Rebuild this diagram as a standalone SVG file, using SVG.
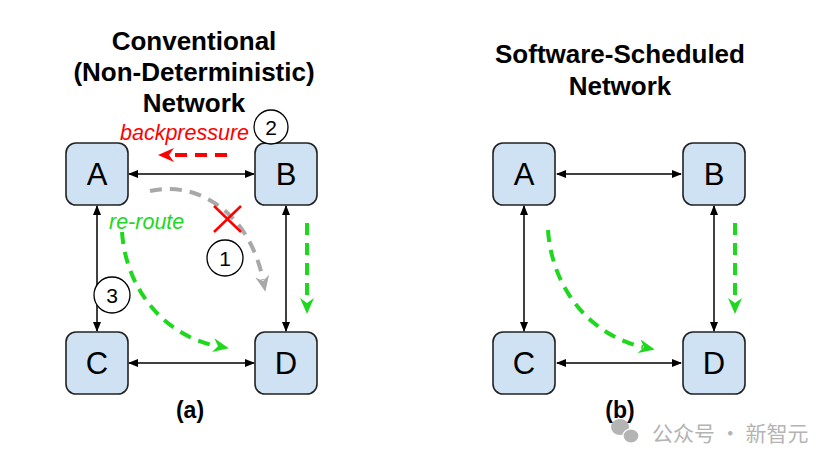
<svg xmlns="http://www.w3.org/2000/svg" width="836" height="462" viewBox="0 0 836 462">
<style>
.title{font-family:"Liberation Sans",Arial,sans-serif;font-weight:bold;font-size:26px;fill:#000;text-anchor:middle}
.box{fill:#cfe2f3;stroke:#222;stroke-width:1.6}
.lbl{font-family:"Liberation Sans",Arial,sans-serif;font-size:31px;fill:#000;text-anchor:middle}
.link{stroke:#000;stroke-width:1.5;fill:none;marker-start:url(#blk);marker-end:url(#blk)}
.num{fill:#fff;stroke:#000;stroke-width:1.3}
.numt{font-family:"Liberation Sans",Arial,sans-serif;font-size:21px;fill:#000;text-anchor:middle}
.it{font-family:"Liberation Sans",Arial,sans-serif;font-style:italic;font-size:21.5px}
.g{stroke:#1ed81e;stroke-width:4;fill:none;stroke-dasharray:12 8;marker-end:url(#ga)}
.cap{font-family:"Liberation Sans",Arial,sans-serif;font-weight:bold;font-size:23px;fill:#000;text-anchor:middle}
</style>
<defs>
<marker id="blk" markerUnits="userSpaceOnUse" markerWidth="10" markerHeight="8" refX="9" refY="4" orient="auto-start-reverse" viewBox="0 0 10 8"><path d="M0,0 L10,4 L0,8 Z" fill="#000"/></marker>
<marker id="ga" markerUnits="userSpaceOnUse" markerWidth="16" markerHeight="14" refX="4" refY="7" orient="auto" viewBox="0 0 16 14"><path d="M0,0 L16,7 L0,14 L5,7 Z" fill="#1ed81e"/></marker>
<marker id="ra" markerUnits="userSpaceOnUse" markerWidth="16" markerHeight="14" refX="4" refY="7" orient="auto" viewBox="0 0 16 14"><path d="M0,0 L16,7 L0,14 L5,7 Z" fill="#ff0000"/></marker>
<marker id="ya" markerUnits="userSpaceOnUse" markerWidth="16" markerHeight="14" refX="4" refY="7" orient="auto" viewBox="0 0 16 14"><path d="M0,0 L16,7 L0,14 L5,7 Z" fill="#a8a8a8"/></marker>
</defs>

<g id="title-a">
<text class="title" x="194" y="50">Conventional</text>
<text class="title" x="194" y="81">(Non-Deterministic)</text>
<text class="title" x="194" y="112">Network</text>
</g>
<g id="title-b">
<text class="title" x="620" y="63">Software-Scheduled</text>
<text class="title" x="620" y="95">Network</text>
</g>

<g id="connectors">
<path class="link" d="M129,174 H254"/>
<path class="link" d="M97,206 V331"/>
<path class="link" d="M286,206 V331"/>
<path class="link" d="M129,363 H254"/>
<path class="link" d="M557,174 H681"/>
<path class="link" d="M524,206 V331"/>
<path class="link" d="M714,206 V331"/>
<path class="link" d="M557,363 H681"/>
<path d="M227,155 H170" stroke="#ff0000" stroke-width="4" fill="none" stroke-dasharray="12 8" marker-end="url(#ra)"/>
<path d="M150,191 C200,180 250,215 263,280" stroke="#a8a8a8" stroke-width="4" fill="none" stroke-dasharray="12 8" marker-end="url(#ya)"/>
<path class="g" d="M122,232 C126,290 165,336 217,346"/>
<path class="g" d="M307,223 V302"/>
<path class="g" d="M548,230 C552,290 592,336 643,347"/>
<path class="g" d="M735,223 V302"/>
</g>

<g id="node-A-a"><rect class="box" x="66" y="143" width="62" height="62" rx="10"/><text class="lbl" x="97" y="185">A</text></g>
<g id="node-B-a"><rect class="box" x="255" y="143" width="62" height="62" rx="10"/><text class="lbl" x="286" y="185">B</text></g>
<g id="node-C-a"><rect class="box" x="66" y="332" width="62" height="62" rx="10"/><text class="lbl" x="97" y="374">C</text></g>
<g id="node-D-a"><rect class="box" x="255" y="332" width="62" height="62" rx="10"/><text class="lbl" x="286" y="374">D</text></g>

<g id="node-A-b"><rect class="box" x="493" y="143" width="62" height="62" rx="10"/><text class="lbl" x="524" y="185">A</text></g>
<g id="node-B-b"><rect class="box" x="683" y="143" width="62" height="62" rx="10"/><text class="lbl" x="714" y="185">B</text></g>
<g id="node-C-b"><rect class="box" x="493" y="332" width="62" height="62" rx="10"/><text class="lbl" x="524" y="374">C</text></g>
<g id="node-D-b"><rect class="box" x="683" y="332" width="62" height="62" rx="10"/><text class="lbl" x="714" y="374">D</text></g>

<g id="label-backpressure"><text class="it" x="120" y="140" fill="#ff0000">backpressure</text></g>
<g id="label-reroute"><text class="it" x="109" y="229" fill="#1ed81e">re-route</text></g>
<g id="cross"><path d="M214,206 L241,232 M241,206 L214,232" stroke="#ff0000" stroke-width="2.5" fill="none"/></g>

<g id="step-2"><circle class="num" cx="271" cy="127" r="17"/><text class="numt" x="271" y="135">2</text></g>
<g id="step-1"><circle class="num" cx="225" cy="258" r="18"/><text class="numt" x="225" y="266">1</text></g>
<g id="step-3"><circle class="num" cx="112" cy="295" r="18"/><text class="numt" x="112" y="303">3</text></g>

<text class="cap" x="190" y="418">(a)</text>
<text class="cap" x="620" y="418">(b)</text>

<g id="watermark" fill="#b4b4b4">
<ellipse cx="620" cy="427" rx="9" ry="8"/>
<ellipse cx="631" cy="436" rx="8" ry="7" stroke="#fff" stroke-width="1.2"/>
<text x="652" y="441" font-family="'Noto Sans CJK SC',sans-serif" font-size="21">公众号 · 新智元</text>
</g>
</svg>
